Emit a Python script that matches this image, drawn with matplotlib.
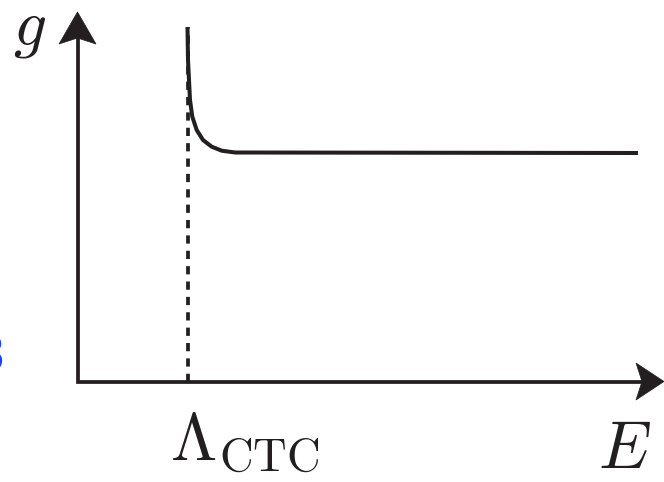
import matplotlib
matplotlib.use("Agg")
import matplotlib.pyplot as plt
from matplotlib.patches import Polygon

plt.rcParams["mathtext.fontset"] = "cm"

INK = "#231f20"

# Coupling g versus energy E (arbitrary units, origin at the axes corner)
E_curve = [110.0, 110.5, 111.5, 112.5, 114.8, 119.2, 125.5, 134.2, 144.2, 157.5, 560.5]
g_curve = [354.5, 321.5, 301.5, 281.5, 264.8, 251.5, 241.5, 234.8, 230.8, 229.0, 228.5]

E_ctc = 110.5          # position of the cutoff Lambda_CTC
g_ctc_top = 354.5

E_axis_end = 565.0
g_axis_end = 345.0

fig = plt.figure(figsize=(6.64, 4.82), dpi=100)
ax = fig.add_axes([0, 0, 1, 1])
ax.set_xlim(-77.5, 586.5)
ax.set_ylim(-100.5, 381.5)
ax.axis("off")

# axes
ax.plot([0, 0, E_axis_end], [g_axis_end, 0, 0], color=INK, lw=2.7,
        solid_joinstyle="miter", solid_capstyle="butt", zorder=3)

# arrowheads with notched backs
ax.add_patch(Polygon([(0, 369.5), (18.5, 337.5), (0, 343.5), (-18.5, 337.5)],
                     closed=True, facecolor=INK, edgecolor=INK, lw=0.5, zorder=4))
ax.add_patch(Polygon([(586.5, 0), (558.5, 18.5), (564.5, 0), (558.5, -18.5)],
                     closed=True, facecolor=INK, edgecolor=INK, lw=0.5, zorder=4))

# dashed cutoff line
ax.plot([E_ctc, E_ctc], [0, g_ctc_top], color=INK, lw=2.7,
        linestyle=(0, (2.2, 1.9)), zorder=2)

# running coupling
ax.plot(E_curve, g_curve, color=INK, lw=2.9, solid_capstyle="butt",
        solid_joinstyle="round", zorder=3)

# labels
ax.text(-48, 336.5, r"$g$", fontsize=47, color=INK, ha="center", va="baseline")
ax.text(E_ctc + 57, -80, r"$\Lambda_{\mathrm{CTC}}$", fontsize=48, color=INK,
        ha="center", va="baseline")
ax.text(547, -86, r"$E$", fontsize=48, color=INK, ha="center", va="baseline")

# fragment of a neighbouring label at the left edge
fig.text(5 / 664, 1 - 372 / 482, "3", fontsize=35, color="#1f3dff",
         ha="right", va="baseline")

fig.savefig("out.png", dpi=100, facecolor="white")
